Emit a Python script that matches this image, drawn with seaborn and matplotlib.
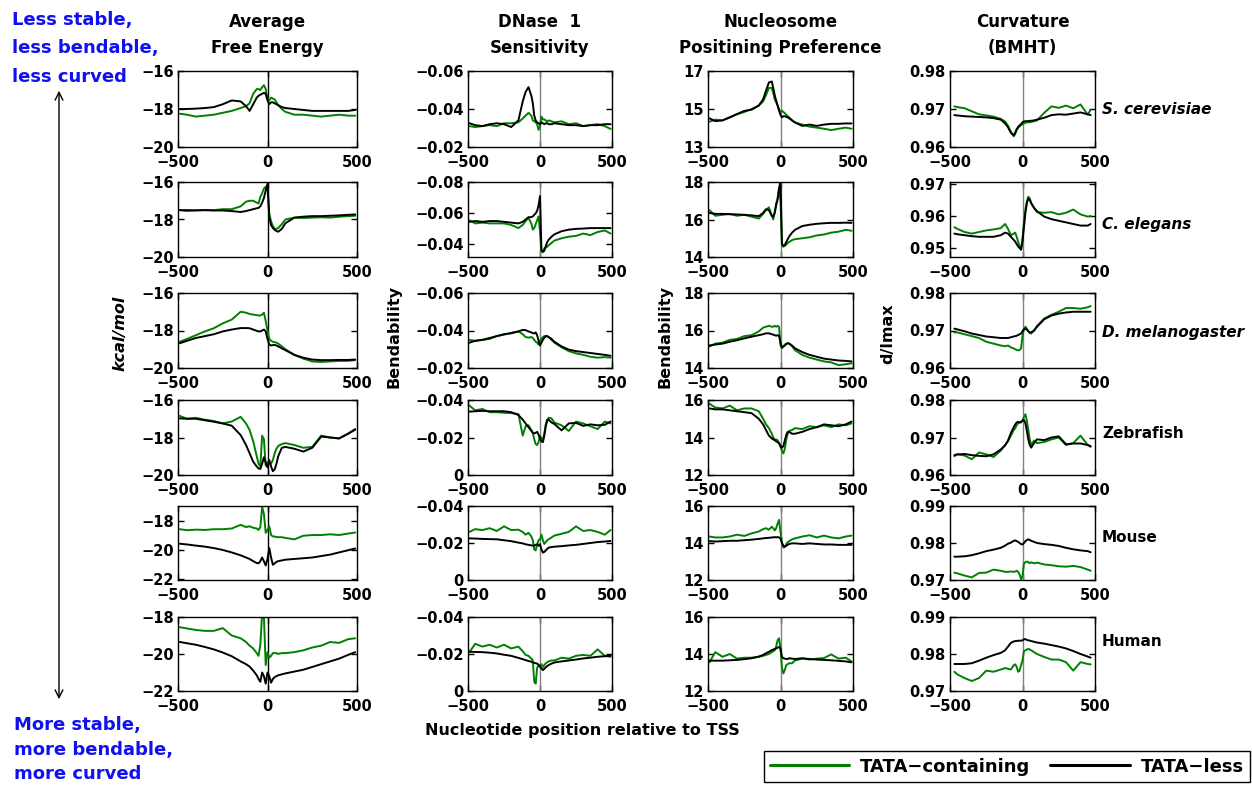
import numpy as np
import pandas as pd
import matplotlib
matplotlib.use("Agg")
import matplotlib.pyplot as plt
import seaborn as sns
from matplotlib.lines import Line2D
from matplotlib.patches import FancyArrowPatch

# ---------------- data ----------------
X = [-490, -450, -400, -350, -300, -250, -200, -150, -120, -100,
     -80, -60, -50, -40, -30, -20, -10, 0,
     10, 20, 30, 40, 50, 60, 80, 100,
     150, 200, 250, 300, 350, 400, 450, 490]
X_CURV = [-470, -450, -400, -350, -300, -250, -200, -150, -120, -100,
          -80, -60, -50, -40, -30, -20, -10, 0,
          10, 20, 30, 40, 50, 60, 80, 100,
          150, 200, 250, 300, 350, 400, 450, 470]

# Average free energy (kcal/mol)
fe_scer_tata = [-18.25, -18.3, -18.4, -18.35, -18.3, -18.2, -18.1, -17.95, -17.85, -17.7,
                -17.2, -16.95, -16.95, -17.0, -16.85, -16.75, -16.95, -17.45,
                -17.55, -17.4, -17.45, -17.5, -17.65, -17.8, -18.0, -18.15,
                -18.3, -18.3, -18.35, -18.4, -18.35, -18.3, -18.35, -18.35]
fe_scer_less = [-18.0, -18.0, -17.98, -17.95, -17.9, -17.75, -17.55, -17.6, -17.85, -18.1,
                -17.75, -17.4, -17.3, -17.25, -17.2, -17.15, -17.2, -17.55,
                -17.75, -17.65, -17.65, -17.7, -17.75, -17.8, -17.9, -17.95,
                -18.0, -18.05, -18.1, -18.1, -18.1, -18.1, -18.1, -18.05]
fe_cele_tata = [-17.5, -17.55, -17.5, -17.5, -17.5, -17.45, -17.45, -17.3, -17.05, -17.0,
                -17.0, -17.1, -17.15, -16.8, -16.6, -16.35, -16.25, -16.3,
                -17.7, -18.1, -18.35, -18.5, -18.5, -18.45, -18.25, -18.0,
                -17.9, -17.92, -17.9, -17.88, -17.9, -17.85, -17.82, -17.8]
fe_cele_less = [-17.5, -17.5, -17.52, -17.5, -17.52, -17.52, -17.55, -17.6, -17.55, -17.5,
                -17.45, -17.4, -17.38, -17.3, -17.1, -16.85, -16.45, -16.1,
                -17.9, -18.3, -18.45, -18.55, -18.62, -18.65, -18.5, -18.2,
                -17.9, -17.85, -17.82, -17.82, -17.8, -17.78, -17.75, -17.73]
fe_dmel_tata = [-18.6, -18.45, -18.25, -18.05, -17.88, -17.62, -17.42, -17.0, -17.05, -17.12,
                -17.15, -17.18, -17.2, -17.2, -17.15, -17.05, -17.5, -18.0,
                -18.45, -18.55, -18.6, -18.62, -18.65, -18.7, -18.85, -19.0,
                -19.3, -19.5, -19.65, -19.68, -19.65, -19.62, -19.62, -19.58]
fe_dmel_less = [-18.68, -18.55, -18.4, -18.3, -18.2, -18.05, -17.95, -17.87, -17.87, -17.88,
                -17.95, -18.02, -18.05, -18.05, -18.0, -17.95, -18.05, -18.45,
                -18.75, -18.8, -18.78, -18.77, -18.8, -18.85, -18.95, -19.05,
                -19.3, -19.45, -19.55, -19.58, -19.58, -19.57, -19.57, -19.55]
fe_zfish_tata = [-16.85, -17.0, -16.95, -17.05, -17.12, -17.25, -17.15, -16.9, -17.25, -17.6,
                 -18.2, -19.0, -19.4, -19.55, -17.9, -18.1, -19.5, -19.3,
                 -19.35, -19.4, -19.2, -18.85, -18.6, -18.45, -18.35, -18.3,
                 -18.4, -18.55, -18.5, -17.9, -18.0, -18.05, -17.8, -17.6]
fe_zfish_less = [-16.98, -17.0, -17.0, -17.08, -17.16, -17.25, -17.37, -17.87, -18.4, -18.84,
                 -19.29, -19.55, -19.65, -19.68, -19.4, -19.05, -19.35, -19.6,
                 -19.2, -19.55, -19.8, -19.7, -19.4, -19.0, -18.55, -18.5,
                 -18.6, -18.75, -18.55, -17.95, -18.0, -18.05, -17.8, -17.55]
fe_mouse_tata = [-18.55, -18.62, -18.58, -18.6, -18.55, -18.55, -18.5, -18.25, -18.4, -18.35,
                 -18.45, -18.5, -18.6, -18.4, -17.0, -17.5, -18.8, -18.6,
                 -18.35, -18.95, -19.05, -19.05, -19.1, -19.1, -19.1, -19.15,
                 -19.25, -19.0, -18.95, -18.95, -18.9, -18.95, -18.85, -18.78]
fe_mouse_less = [-19.55, -19.6, -19.68, -19.75, -19.85, -19.98, -20.15, -20.35, -20.5, -20.6,
                 -20.75, -20.88, -20.9, -20.75, -20.5, -20.75, -21.05, -20.6,
                 -19.85, -20.5, -21.0, -20.9, -20.8, -20.75, -20.7, -20.65,
                 -20.6, -20.55, -20.5, -20.4, -20.3, -20.15, -20.0, -19.88]
fe_human_tata = [-18.55, -18.62, -18.7, -18.75, -18.75, -18.6, -19.0, -19.15, -19.35, -19.55,
                 -19.7, -19.95, -20.1, -19.5, -17.8, -18.0, -20.6, -19.9,
                 -20.2, -20.1, -19.95, -19.95, -19.95, -20.0, -19.95, -19.95,
                 -19.9, -19.8, -19.65, -19.55, -19.35, -19.4, -19.2, -19.15]
fe_human_less = [-19.35, -19.42, -19.5, -19.62, -19.75, -19.92, -20.12, -20.4, -20.55, -20.68,
                 -20.9, -21.15, -21.35, -21.5, -21.0, -21.2, -21.6, -21.0,
                 -21.2, -21.55, -21.35, -21.25, -21.2, -21.15, -21.1, -21.05,
                 -20.95, -20.85, -20.7, -20.55, -20.4, -20.25, -20.05, -19.9]

# DNase 1 sensitivity (bendability)
dn_scer_tata = [-0.031, -0.0305, -0.031, -0.0315, -0.031, -0.0325, -0.0325, -0.033, -0.035, -0.0365,
                -0.038, -0.0365, -0.034, -0.0335, -0.033, -0.032, -0.029, -0.031,
                -0.036, -0.0345, -0.0345, -0.034, -0.0335, -0.034, -0.0335, -0.033,
                -0.0335, -0.032, -0.0325, -0.031, -0.0315, -0.032, -0.031, -0.0295]
dn_scer_less = [-0.0325, -0.0315, -0.031, -0.032, -0.0325, -0.032, -0.0305, -0.034, -0.044, -0.049,
                -0.0515, -0.047, -0.043, -0.0365, -0.034, -0.033, -0.0325, -0.032,
                -0.033, -0.0325, -0.032, -0.0325, -0.0325, -0.032, -0.032, -0.0325,
                -0.032, -0.0315, -0.0315, -0.031, -0.0315, -0.0315, -0.032, -0.032]
dn_cele_tata = [-0.0555, -0.0535, -0.054, -0.0535, -0.0535, -0.0535, -0.0525, -0.0505, -0.0525, -0.055,
                -0.057, -0.0535, -0.0495, -0.0505, -0.053, -0.0555, -0.058, -0.048,
                -0.036, -0.035, -0.0375, -0.038, -0.0385, -0.0395, -0.041, -0.0425,
                -0.044, -0.045, -0.0455, -0.047, -0.046, -0.048, -0.049, -0.047]
dn_cele_less = [-0.0545, -0.055, -0.0545, -0.055, -0.055, -0.0545, -0.054, -0.0535, -0.0545, -0.056,
                -0.0575, -0.0575, -0.058, -0.059, -0.06, -0.0615, -0.065, -0.071,
                -0.036, -0.0355, -0.036, -0.039, -0.0415, -0.043, -0.045, -0.0465,
                -0.0485, -0.0495, -0.05, -0.0502, -0.0505, -0.0505, -0.0505, -0.0505]
dn_dmel_tata = [-0.035, -0.0345, -0.035, -0.0355, -0.037, -0.0378, -0.0388, -0.0395, -0.038, -0.0365,
                -0.0362, -0.0365, -0.036, -0.035, -0.034, -0.0335, -0.0325, -0.0345,
                -0.0355, -0.0365, -0.037, -0.0372, -0.037, -0.0365, -0.035, -0.0335,
                -0.031, -0.029, -0.0278, -0.027, -0.026, -0.0255, -0.0258, -0.0255]
dn_dmel_less = [-0.0335, -0.0345, -0.035, -0.036, -0.037, -0.038, -0.0385, -0.0395, -0.0403, -0.0402,
                -0.0395, -0.039, -0.0385, -0.0385, -0.039, -0.0375, -0.0345, -0.032,
                -0.0335, -0.035, -0.0362, -0.0368, -0.037, -0.0365, -0.0355, -0.034,
                -0.0315, -0.0298, -0.029, -0.0285, -0.028, -0.0275, -0.027, -0.0265]
dn_zfish_tata = [-0.037, -0.0345, -0.0352, -0.0335, -0.0335, -0.0332, -0.033, -0.0325, -0.021, -0.026,
                 -0.0265, -0.024, -0.0225, -0.019, -0.0165, -0.016, -0.0175, -0.021,
                 -0.0195, -0.019, -0.022, -0.027, -0.0295, -0.0305, -0.0302, -0.028,
                 -0.0265, -0.0235, -0.0285, -0.0275, -0.026, -0.0245, -0.0285, -0.0275]
dn_zfish_less = [-0.0338, -0.034, -0.0342, -0.034, -0.034, -0.034, -0.0335, -0.032, -0.0295, -0.0275,
                 -0.0255, -0.0235, -0.0225, -0.0222, -0.0225, -0.023, -0.0215, -0.0195,
                 -0.018, -0.0175, -0.021, -0.026, -0.029, -0.0295, -0.028, -0.0272,
                 -0.0238, -0.0275, -0.0278, -0.0262, -0.027, -0.0265, -0.0268, -0.0285]
dn_mouse_tata = [-0.026, -0.0275, -0.027, -0.028, -0.0265, -0.029, -0.027, -0.0272, -0.026, -0.0245,
                 -0.0255, -0.0235, -0.0215, -0.0165, -0.016, -0.019, -0.0215, -0.022,
                 -0.0245, -0.0215, -0.0195, -0.0205, -0.0215, -0.022, -0.023, -0.024,
                 -0.025, -0.026, -0.029, -0.0265, -0.027, -0.026, -0.0245, -0.027]
dn_mouse_less = [-0.0225, -0.0224, -0.0222, -0.0221, -0.022, -0.0215, -0.021, -0.0202, -0.0198, -0.0193,
                 -0.019, -0.0187, -0.0186, -0.0186, -0.019, -0.0193, -0.0185, -0.0193,
                 -0.0166, -0.0148, -0.0152, -0.016, -0.0168, -0.0175, -0.0178, -0.018,
                 -0.0183, -0.0187, -0.019, -0.0195, -0.02, -0.0205, -0.0208, -0.0211]
dn_human_tata = [-0.021, -0.0255, -0.024, -0.025, -0.0235, -0.025, -0.023, -0.024, -0.0215, -0.0195,
                 -0.019, -0.0175, -0.0165, -0.005, -0.004, -0.0125, -0.014, -0.0135,
                 -0.0145, -0.013, -0.014, -0.015, -0.0155, -0.016, -0.0165, -0.0165,
                 -0.018, -0.0175, -0.019, -0.0195, -0.019, -0.0225, -0.019, -0.0185]
dn_human_less = [-0.0212, -0.0211, -0.021, -0.0207, -0.0203, -0.0196, -0.019, -0.0179, -0.0172, -0.0167,
                 -0.0162, -0.0158, -0.0155, -0.0152, -0.015, -0.0148, -0.0142, -0.0131,
                 -0.0122, -0.0113, -0.012, -0.0128, -0.0135, -0.014, -0.0148, -0.0154,
                 -0.016, -0.0165, -0.017, -0.0176, -0.018, -0.0185, -0.0188, -0.019]

# Nucleosome positioning preference (bendability)
nu_scer_tata = [14.33, 14.44, 14.4, 14.56, 14.73, 14.84, 15.0, 15.18, 15.4, 15.73,
                16.11, 16.11, 15.84, 15.51, 15.36, 15.18, 15.0, 14.84,
                14.91, 14.84, 14.78, 14.69, 14.62, 14.56, 14.4, 14.29,
                14.18, 14.07, 14.02, 13.96, 13.89, 13.96, 14.02, 13.96]
nu_scer_less = [14.51, 14.36, 14.4, 14.56, 14.73, 14.9, 14.96, 15.18, 15.51, 15.96,
                16.4, 16.45, 16.1, 15.73, 15.44, 15.18, 14.91, 14.69,
                14.56, 14.62, 14.62, 14.58, 14.56, 14.51, 14.4, 14.29,
                14.11, 14.18, 14.11, 14.18, 14.22, 14.22, 14.24, 14.24]
nu_cele_tata = [16.5, 16.2, 16.25, 16.3, 16.2, 16.25, 16.15, 16.05, 16.3, 16.5,
                16.65, 16.2, 16.0, 16.4, 16.85, 17.15, 17.7, 17.0,
                14.6, 14.55, 14.6, 14.65, 14.75, 14.8, 14.9, 14.95,
                15.0, 15.05, 15.15, 15.2, 15.3, 15.35, 15.45, 15.4]
nu_cele_less = [16.35, 16.3, 16.3, 16.28, 16.27, 16.25, 16.22, 16.18, 16.35, 16.55,
                16.5, 16.2, 16.15, 16.35, 16.75, 17.05, 17.6, 18.1,
                14.7, 14.6, 14.65, 14.8, 14.95, 15.1, 15.3, 15.45,
                15.65, 15.72, 15.77, 15.8, 15.82, 15.82, 15.83, 15.82]
nu_dmel_tata = [15.15, 15.3, 15.35, 15.5, 15.55, 15.7, 15.75, 15.95, 16.15, 16.2,
                16.25, 16.2, 16.2, 16.25, 16.2, 16.25, 16.2, 15.2,
                15.05, 15.15, 15.25, 15.3, 15.32, 15.3, 15.15, 14.95,
                14.7, 14.55, 14.45, 14.35, 14.3, 14.15, 14.2, 14.25]
nu_dmel_less = [15.2, 15.25, 15.3, 15.4, 15.48, 15.58, 15.67, 15.75, 15.8, 15.85,
                15.85, 15.8, 15.78, 15.75, 15.72, 15.75, 15.72, 15.35,
                15.1, 15.15, 15.2, 15.28, 15.32, 15.3, 15.2, 15.05,
                14.85, 14.7, 14.6, 14.5, 14.45, 14.4, 14.38, 14.35]
nu_zfish_tata = [15.8, 15.6, 15.55, 15.7, 15.45, 15.55, 15.55, 15.4, 15.0, 14.7,
                 14.5, 14.2, 14.0, 13.9, 13.9, 13.85, 13.7, 13.5,
                 13.3, 13.15, 13.4, 13.9, 14.2, 14.35, 14.4, 14.5,
                 14.45, 14.6, 14.55, 14.65, 14.55, 14.7, 14.65, 14.75]
nu_zfish_less = [15.55, 15.5, 15.5, 15.45, 15.4, 15.35, 15.3, 15.0, 14.7, 14.4,
                 14.1, 13.95, 13.9, 13.85, 13.8, 13.75, 13.7, 13.55,
                 13.45, 13.55, 13.85, 14.15, 14.3, 14.3, 14.2, 14.2,
                 14.3, 14.45, 14.55, 14.7, 14.65, 14.6, 14.7, 14.85]
nu_mouse_tata = [14.35, 14.3, 14.3, 14.35, 14.45, 14.38, 14.52, 14.62, 14.75, 14.8,
                 14.72, 14.88, 14.8, 14.68, 14.8, 15.05, 15.25, 14.6,
                 14.0, 13.75, 13.8, 13.95, 14.05, 14.1, 14.2, 14.25,
                 14.35, 14.42, 14.3, 14.4, 14.3, 14.25, 14.35, 14.4]
nu_mouse_less = [14.1, 14.08, 14.1, 14.12, 14.12, 14.15, 14.18, 14.22, 14.25, 14.27,
                 14.28, 14.3, 14.3, 14.32, 14.3, 14.32, 14.3, 14.25,
                 14.0, 13.85, 13.8, 13.85, 13.9, 13.95, 13.98, 13.98,
                 13.95, 13.98, 13.95, 13.92, 13.92, 13.9, 13.9, 13.9]
nu_human_tata = [13.55, 14.1, 13.85, 14.0, 13.75, 13.8, 13.8, 13.85, 13.9, 13.95,
                 14.0, 14.1, 14.15, 14.2, 14.4, 14.75, 14.85, 14.3,
                 13.25, 12.95, 13.15, 13.4, 13.45, 13.5, 13.5, 13.65,
                 13.75, 13.7, 13.75, 13.78, 13.98, 13.75, 13.8, 13.6]
nu_human_less = [13.64, 13.64, 13.64, 13.66, 13.68, 13.72, 13.77, 13.86, 13.95, 14.04,
                 14.12, 14.21, 14.24, 14.27, 14.3, 14.34, 14.38, 14.3,
                 13.85, 13.77, 13.75, 13.73, 13.73, 13.77, 13.75, 13.73,
                 13.77, 13.73, 13.7, 13.68, 13.66, 13.63, 13.6, 13.55]

# Curvature (BMHT), d/lmax
cu_scer_tata = [0.9707, 0.9705, 0.9702, 0.9694, 0.9686, 0.9683, 0.968, 0.9674, 0.9667, 0.9656,
                0.964, 0.9628, 0.9635, 0.9645, 0.965, 0.9654, 0.9658, 0.966,
                0.9662, 0.9664, 0.9665, 0.9665, 0.9665, 0.9666, 0.9668, 0.967,
                0.969, 0.9707, 0.9703, 0.9709, 0.9702, 0.9712, 0.9685, 0.9698]
cu_scer_less = [0.9684, 0.9683, 0.9681, 0.968, 0.9679, 0.9678, 0.9676, 0.9672, 0.9662, 0.9652,
                0.9637, 0.9631, 0.9638, 0.9647, 0.9653, 0.9657, 0.966, 0.9665,
                0.9667, 0.9668, 0.9668, 0.9668, 0.9669, 0.9669, 0.967, 0.9672,
                0.9677, 0.9684, 0.9686, 0.9685, 0.9688, 0.9691, 0.9686, 0.9684]
cu_cele_tata = [0.9565, 0.956, 0.955, 0.9545, 0.955, 0.9555, 0.9558, 0.9562, 0.9575, 0.956,
                0.954, 0.9545, 0.9548, 0.9535, 0.952, 0.9505, 0.9495, 0.953,
                0.958, 0.962, 0.9645, 0.966, 0.9655, 0.964, 0.9625, 0.9612,
                0.961, 0.9612, 0.9605, 0.961, 0.962, 0.9605, 0.9598, 0.96]
cu_cele_less = [0.9545, 0.9543, 0.954, 0.9537, 0.9535, 0.9535, 0.9535, 0.954, 0.9548, 0.9545,
                0.9535, 0.9525, 0.952, 0.9512, 0.9505, 0.95, 0.9495, 0.952,
                0.9565, 0.961, 0.964, 0.9655, 0.965, 0.964, 0.9625, 0.9615,
                0.9598, 0.959, 0.9585, 0.958, 0.9575, 0.957, 0.957, 0.9575]
cu_dmel_tata = [0.9695, 0.9695, 0.969, 0.9685, 0.968, 0.967, 0.9665, 0.966, 0.9658, 0.966,
                0.9655, 0.9652, 0.965, 0.9648, 0.9647, 0.9648, 0.9652, 0.9685,
                0.9705, 0.971, 0.9705, 0.9698, 0.9693, 0.9692, 0.97, 0.9712,
                0.9732, 0.9742, 0.975, 0.976, 0.976, 0.9758, 0.9762, 0.9765]
cu_dmel_less = [0.9705, 0.9703, 0.9698, 0.9692, 0.9688, 0.9684, 0.9682, 0.968, 0.968, 0.968,
                0.9682, 0.9684, 0.9685, 0.9686, 0.9688, 0.969, 0.9692, 0.9698,
                0.9703, 0.9705, 0.9702, 0.9698, 0.9695, 0.9695, 0.97, 0.971,
                0.973, 0.974, 0.9745, 0.9748, 0.975, 0.975, 0.975, 0.975]
cu_zfish_tata = [0.965, 0.9655, 0.9652, 0.9642, 0.966, 0.9655, 0.9648, 0.9665, 0.968, 0.969,
                 0.9705, 0.972, 0.9725, 0.9733, 0.9738, 0.974, 0.974, 0.9745,
                 0.9755, 0.9762, 0.9745, 0.972, 0.9695, 0.968, 0.9692, 0.9685,
                 0.9688, 0.9695, 0.97, 0.968, 0.9685, 0.9705, 0.968, 0.9675]
cu_zfish_less = [0.9653, 0.9655, 0.9656, 0.9653, 0.9651, 0.965, 0.9655, 0.9668, 0.9679, 0.9692,
                 0.9712, 0.9728, 0.9735, 0.974, 0.9742, 0.974, 0.9742, 0.9745,
                 0.9747, 0.9738, 0.9718, 0.9695, 0.968, 0.9673, 0.9685, 0.9695,
                 0.9693, 0.97, 0.9703, 0.9682, 0.9684, 0.9684, 0.968, 0.9677]
cu_mouse_tata = [0.972, 0.9718, 0.9712, 0.9707, 0.9719, 0.972, 0.9728, 0.9725, 0.9722, 0.9722,
                 0.9723, 0.9722, 0.9723, 0.9725, 0.9722, 0.9715, 0.9702, 0.971,
                 0.9745, 0.9748, 0.975, 0.9748, 0.9745, 0.9748, 0.9745, 0.9747,
                 0.9742, 0.974, 0.9737, 0.9736, 0.9738, 0.9735, 0.9728, 0.9725]
cu_mouse_less = [0.9763, 0.9763, 0.9764, 0.9767, 0.9772, 0.9778, 0.9782, 0.9787, 0.9793, 0.9798,
                 0.9801, 0.9806, 0.9807, 0.9805, 0.9803, 0.98, 0.9797, 0.9796,
                 0.98, 0.9805, 0.9808, 0.981, 0.9808, 0.9806, 0.9803, 0.98,
                 0.9797, 0.9795, 0.9792, 0.9787, 0.9783, 0.978, 0.9778, 0.9775]
cu_human_tata = [0.9752, 0.9745, 0.9735, 0.9727, 0.9735, 0.9755, 0.9752, 0.9758, 0.9762, 0.976,
                 0.9758, 0.977, 0.9772, 0.9765, 0.9752, 0.9755, 0.977, 0.9782,
                 0.9808, 0.981, 0.9812, 0.9814, 0.9812, 0.981, 0.9805, 0.98,
                 0.9792, 0.9785, 0.9785, 0.9778, 0.9755, 0.9778, 0.9773, 0.9772]
cu_human_less = [0.9773, 0.9773, 0.9773, 0.9775, 0.9782, 0.979, 0.9797, 0.9803, 0.981, 0.982,
                 0.983, 0.9834, 0.9835, 0.9835, 0.9836, 0.9836, 0.9836, 0.9837,
                 0.984, 0.984, 0.9838, 0.9837, 0.9836, 0.9835, 0.9833, 0.9831,
                 0.9828, 0.9824, 0.982, 0.9815, 0.9808, 0.98, 0.9793, 0.979]

SPECIES = ["S. cerevisiae", "C. elegans", "D. melanogaster", "Zebrafish", "Mouse", "Human"]
TITLES = [("Average", "Free Energy"), ("DNase  1", "Sensitivity"),
          ("Nucleosome", "Positining Preference"), ("Curvature", "(BMHT)")]
GROUPS = ["TATA-containing", "TATA-less"]
LEGEND_LABELS = ["TATA\u2212containing", "TATA\u2212less"]

SERIES = [
    [(fe_scer_tata, fe_scer_less), (dn_scer_tata, dn_scer_less), (nu_scer_tata, nu_scer_less), (cu_scer_tata, cu_scer_less)],
    [(fe_cele_tata, fe_cele_less), (dn_cele_tata, dn_cele_less), (nu_cele_tata, nu_cele_less), (cu_cele_tata, cu_cele_less)],
    [(fe_dmel_tata, fe_dmel_less), (dn_dmel_tata, dn_dmel_less), (nu_dmel_tata, nu_dmel_less), (cu_dmel_tata, cu_dmel_less)],
    [(fe_zfish_tata, fe_zfish_less), (dn_zfish_tata, dn_zfish_less), (nu_zfish_tata, nu_zfish_less), (cu_zfish_tata, cu_zfish_less)],
    [(fe_mouse_tata, fe_mouse_less), (dn_mouse_tata, dn_mouse_less), (nu_mouse_tata, nu_mouse_less), (cu_mouse_tata, cu_mouse_less)],
    [(fe_human_tata, fe_human_less), (dn_human_tata, dn_human_less), (nu_human_tata, nu_human_less), (cu_human_tata, cu_human_less)],
]

# axis limits (bottom, top) and ticks per row/column
YLIMS = [
    [(-20, -16), (-0.02, -0.06), (13, 17), (0.96, 0.98)],
    [(-20, -16), (-0.032, -0.08), (14, 18), (0.9472, 0.9706)],
    [(-20, -16), (-0.02, -0.06), (14, 18), (0.96, 0.98)],
    [(-20, -16), (0.0, -0.04), (12, 16), (0.96, 0.98)],
    [(-22.05, -16.95), (0.0, -0.04), (12, 16), (0.97, 0.99)],
    [(-22, -18), (0.0, -0.04), (12, 16), (0.97, 0.99)],
]
YTICKS = [
    [[-20, -18, -16], [-0.06, -0.04, -0.02], [13, 15, 17], [0.96, 0.97, 0.98]],
    [[-20, -18, -16], [-0.08, -0.06, -0.04], [14, 16, 18], [0.95, 0.96, 0.97]],
    [[-20, -18, -16], [-0.06, -0.04, -0.02], [14, 16, 18], [0.96, 0.97, 0.98]],
    [[-20, -18, -16], [-0.04, -0.02, 0], [12, 14, 16], [0.96, 0.97, 0.98]],
    [[-22, -20, -18], [-0.04, -0.02, 0], [12, 14, 16], [0.97, 0.98, 0.99]],
    [[-22, -20, -18], [-0.04, -0.02, 0], [12, 14, 16], [0.97, 0.98, 0.99]],
]
XTICKS = [-500, 0, 500]

# ---------------- style ----------------
sns.set_theme(style="ticks")
plt.rcParams["font.family"] = ["DejaVu Sans"]
plt.rcParams["font.weight"] = "bold"
plt.rcParams["axes.unicode_minus"] = True
plt.rcParams["text.color"] = "black"
plt.rcParams["axes.labelcolor"] = "black"
plt.rcParams["xtick.color"] = "black"
plt.rcParams["ytick.color"] = "black"

GREEN = "#008000"
W, H = 1252, 785
fig = plt.figure(figsize=(W / 100, H / 100), dpi=100)

COL_X = [(178, 357), (468, 612), (708, 853), (950, 1095)]
ROW_Y = [(71, 147), (182, 257), (293, 368), (400, 475), (506, 580), (617, 691)]


def fmt(v):
    return ("%g" % v).replace("-", "\u2212")


for r in range(6):
    for c in range(4):
        x0, x1 = COL_X[c]
        y0, y1 = ROW_Y[r]
        ax = fig.add_axes([x0 / W, 1 - y1 / H, (x1 - x0) / W, (y1 - y0) / H])
        xs = X_CURV if c == 3 else X
        tata, less = SERIES[r][c]
        df = pd.DataFrame({
            "pos": list(xs) + list(xs),
            "value": list(tata) + list(less),
            "group": [GROUPS[0]] * len(xs) + [GROUPS[1]] * len(xs),
        })
        ax.axvline(0, color="black" if c == 0 else "#808080", lw=1.0, zorder=1)
        sns.lineplot(data=df, x="pos", y="value", hue="group", hue_order=GROUPS,
                     palette={GROUPS[0]: GREEN, GROUPS[1]: "black"},
                     estimator=None, sort=False, linewidth=1.4, legend=False, ax=ax)
        ax.set_xlim(-500, 500)
        ax.set_ylim(*YLIMS[r][c])
        ax.set_xticks(XTICKS)
        ax.set_xticklabels([fmt(v) for v in XTICKS])
        ax.set_yticks(YTICKS[r][c])
        ax.set_yticklabels([fmt(v) for v in YTICKS[r][c]])
        ax.set_xlabel("")
        ax.set_ylabel("")
        ax.tick_params(axis="both", direction="in", length=4, width=1, top=True, right=True,
                       labelsize=10.5, colors="black")
        ax.tick_params(axis="x", pad=6)
        ax.tick_params(axis="y", pad=3)
        for lab in ax.get_xticklabels() + ax.get_yticklabels():
            lab.set_fontweight("bold")
        for s in ax.spines.values():
            s.set_visible(True)
            s.set_linewidth(1.0)
            s.set_color("black")


def ftext(x, y, s, **kw):
    kw.setdefault("color", "black")
    fig.text(x / W, 1 - y / H, s, **kw)


# column titles
COL_CENTERS = [(a + b) / 2 for a, b in COL_X]
for c, (l1, l2) in enumerate(TITLES):
    ftext(COL_CENTERS[c], 22, l1, ha="center", va="center", fontsize=12, fontweight="bold")
    ftext(COL_CENTERS[c], 48, l2, ha="center", va="center", fontsize=12, fontweight="bold")

# species labels
SPECIES_Y = [110, 225, 333, 433, 538, 642]
for i, name in enumerate(SPECIES):
    ftext(1102, SPECIES_Y[i], name, ha="left", va="center", fontsize=11, fontweight="bold",
          style="italic" if i < 3 else "normal")

# y labels
ftext(120, 333, "kcal/mol", rotation=90, ha="center", va="center", fontsize=11.5,
      fontweight="bold", style="italic")
ftext(394, 337, "Bendability", rotation=90, ha="center", va="center", fontsize=11.5, fontweight="bold")
ftext(665, 337, "Bendability", rotation=90, ha="center", va="center", fontsize=11.5, fontweight="bold")
ftext(888, 334, "d/lmax", rotation=90, ha="center", va="center", fontsize=11.5, fontweight="bold")

# x label
ftext(582, 730, "Nucleotide position relative to TSS", ha="center", va="center",
      fontsize=11.5, fontweight="bold")

# left annotations
BLUE = "#1010f0"
for y, s in zip([20, 48, 77], ["Less stable,", "less bendable,", "less curved"]):
    ftext(12, y, s, ha="left", va="center", fontsize=13, fontweight="bold", color=BLUE)
for y, s in zip([725, 750, 774], ["More stable,", "more bendable,", "more curved"]):
    ftext(14, y, s, ha="left", va="center", fontsize=13, fontweight="bold", color=BLUE)

arrow = FancyArrowPatch((59 / W, 1 - 88 / H), (59 / W, 1 - 702 / H), transform=fig.transFigure,
                        arrowstyle="<->", mutation_scale=14, lw=1.0, color="black")
fig.patches.append(arrow)

# legend
handles = [Line2D([], [], color=GREEN, lw=2.2), Line2D([], [], color="black", lw=2.2)]
leg = fig.legend(handles, LEGEND_LABELS, loc="lower right",
                 bbox_to_anchor=(1250 / W, 1 - 782 / H), ncol=2, frameon=True, fancybox=False,
                 edgecolor="black", framealpha=1, handlelength=4.4, handletextpad=0.6,
                 columnspacing=1.1, borderpad=0.35, borderaxespad=0,
                 prop={"weight": "bold", "size": 13})
leg.get_frame().set_linewidth(1.0)
for t in leg.get_texts():
    t.set_color("black")

fig.savefig("out.png", dpi=100)
